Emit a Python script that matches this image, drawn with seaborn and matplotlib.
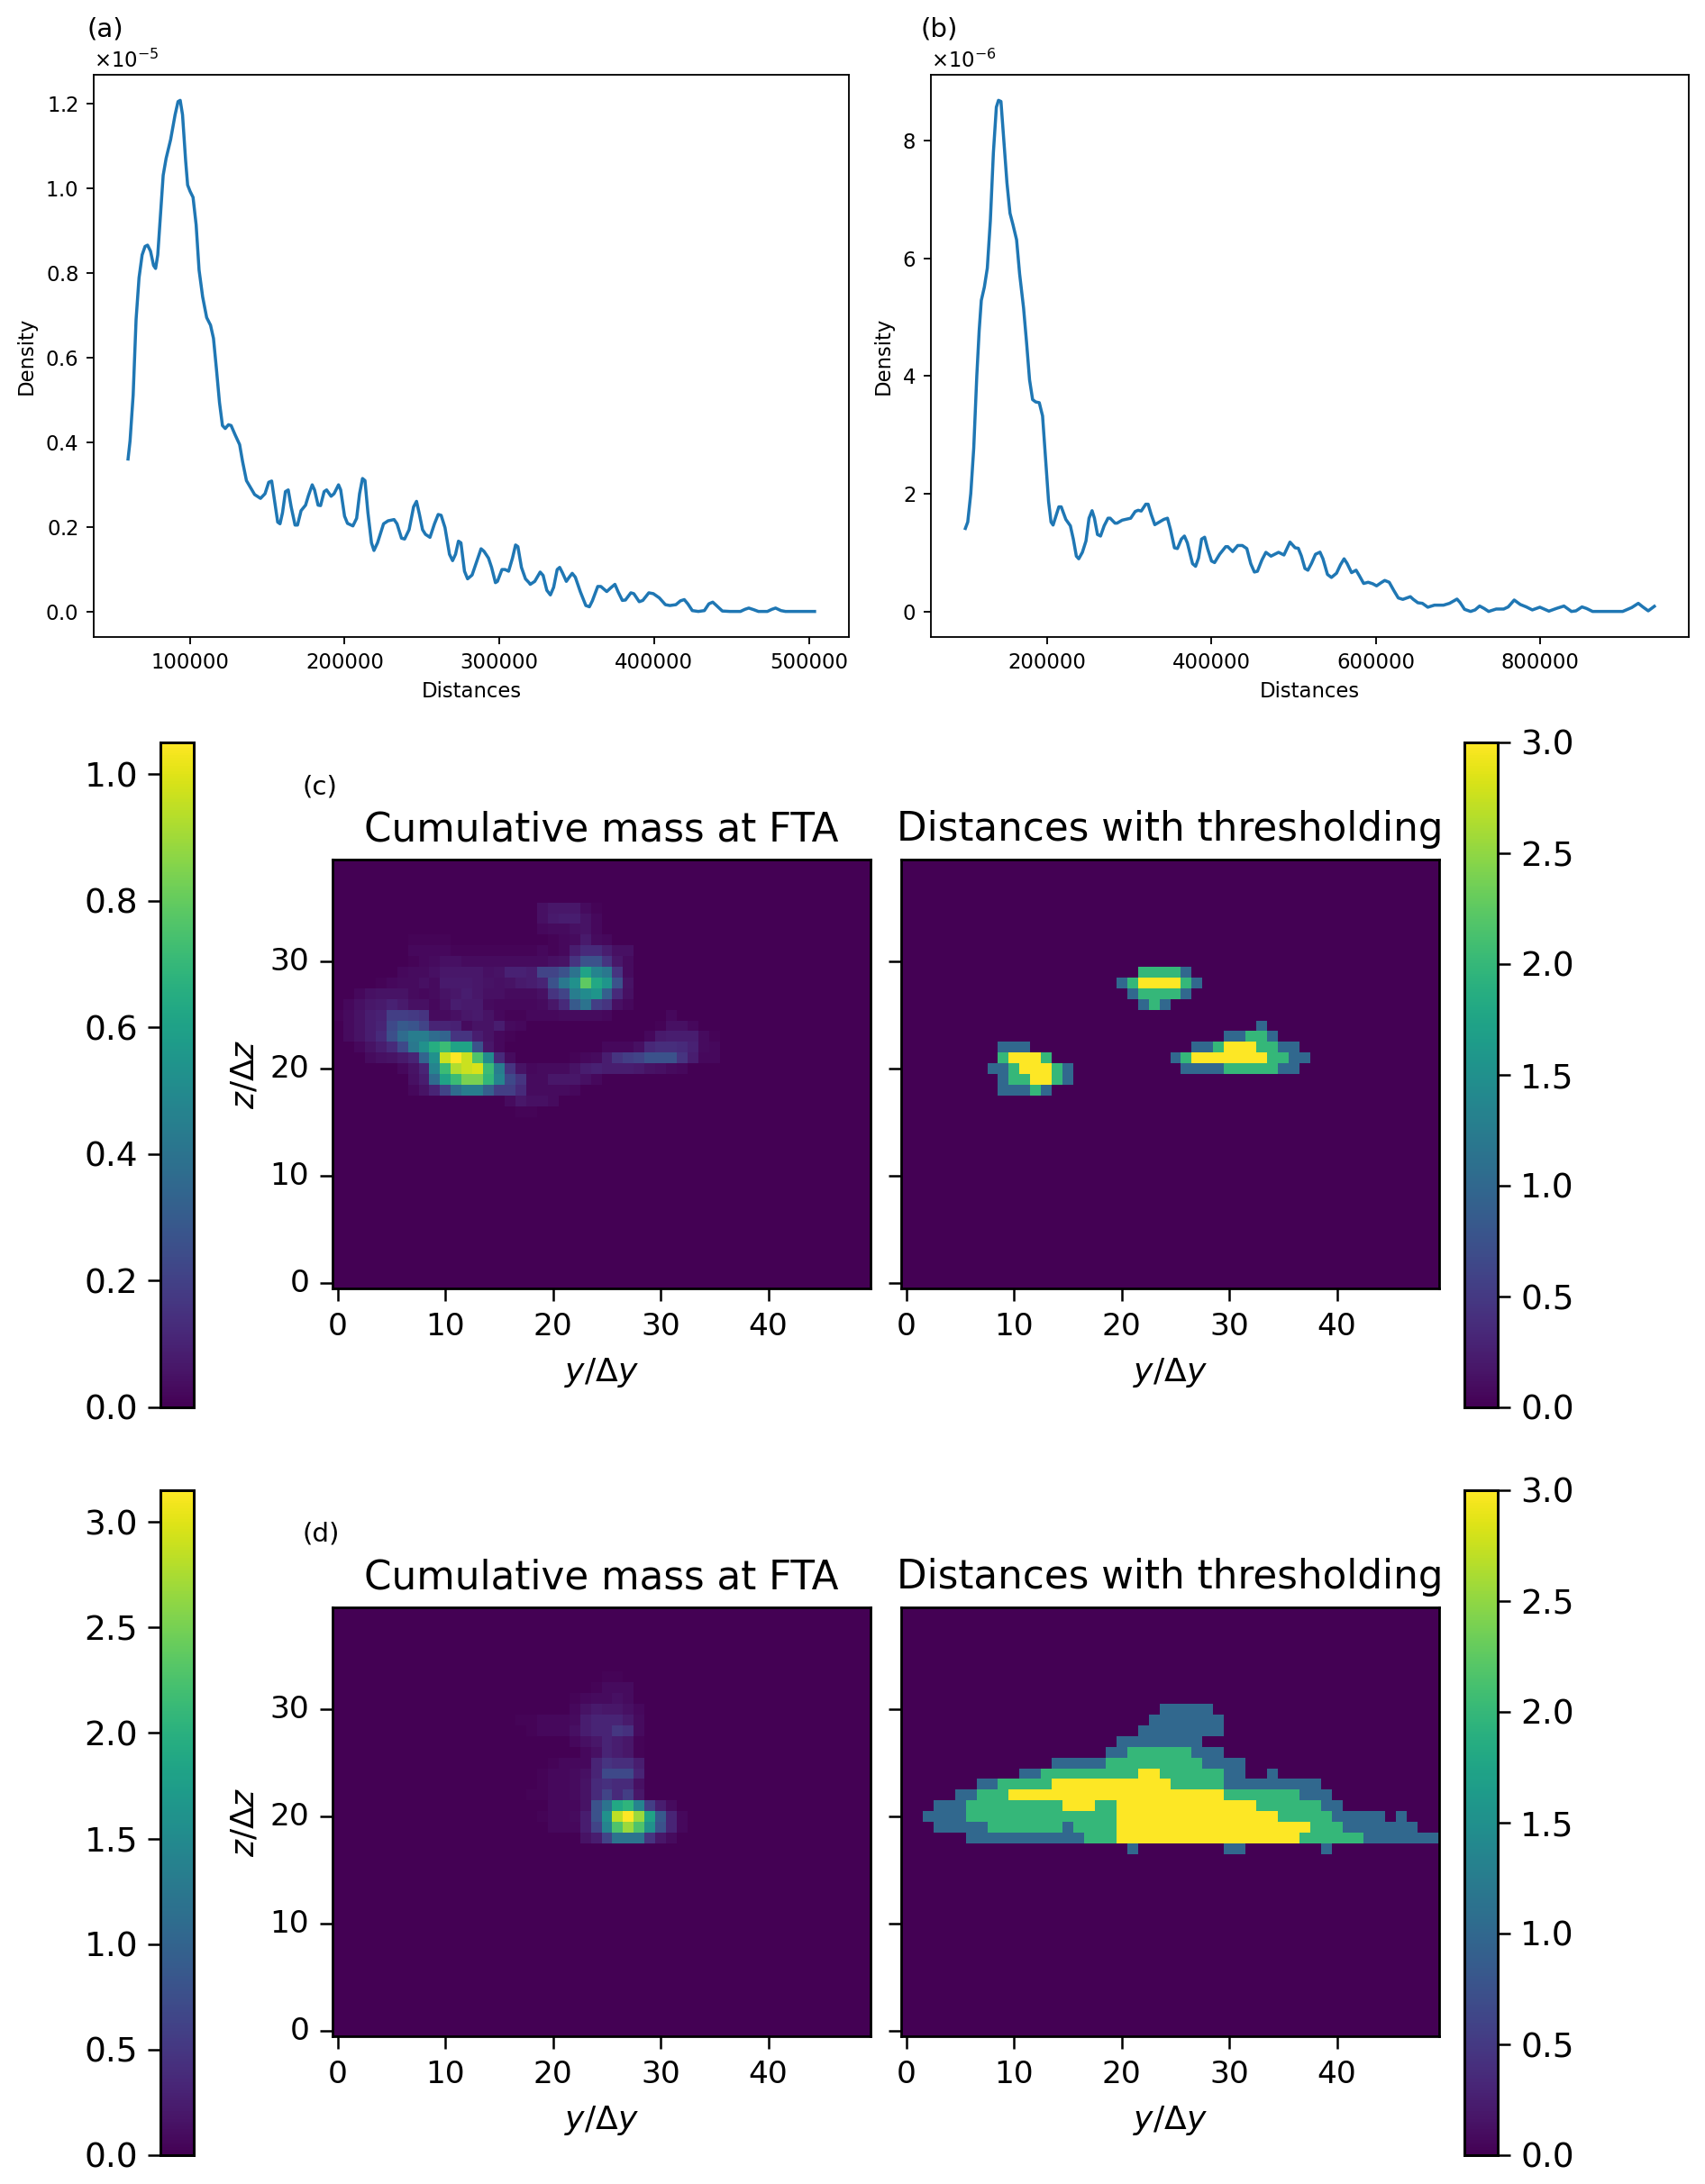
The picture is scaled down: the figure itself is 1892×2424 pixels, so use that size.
import numpy as np
import matplotlib
matplotlib.use("Agg")
import matplotlib.pyplot as plt
import seaborn as sns

# ---------- panel (a): density curve (distance in thousands, density in 1e-5)
dist_a = [60.1,61.4,63.4,65.3,67.2,69.2,71.1,72.7,74.6,76.6,77.9,79.3,80.8,82.8,84.7,87.6,90.5,92.4,93.8,95.3,97.3,98.6,100.2,102.1,104.1,106.0,108.3,110.9,113.4,115.3,117.2,119.2,121.1,122.9,125.0,126.7,129.3,132.2,134.1,136.6,139.0,141.9,145.7,148.6,151.0,152.9,154.8,156.8,158.3,159.9,161.8,163.6,165.5,168.0,169.6,171.9,174.8,176.7,179.1,180.6,182.9,184.5,186.8,188.4,191.3,193.2,196.1,197.5,200.0,201.9,205.4,207.8,209.7,211.6,213.2,215.1,217.4,219.0,221.3,225.2,228.1,232.0,233.9,236.8,238.8,241.7,244.6,246.5,248.4,250.4,252.3,255.2,258.1,260.5,262.4,264.9,267.8,269.8,271.7,273.6,275.2,277.5,279.5,282.4,285.3,288.2,290.1,293.0,295.0,297.5,298.8,301.7,303.7,306.0,308.5,310.5,312.0,314.3,316.9,319.2,
          320.0,322.9,326.4,328.3,330.7,333.0,335.1,337.4,339.0,340.7,343.3,345.2,347.1,349.1,352.4,355.9,358.2,360.1,363.6,365.6,369.4,372.4,374.7,376.8,379.5,381.5,385.0,386.9,390.4,392.7,396.6,399.5,403.4,407.3,410.2,414.1,417.0,419.5,421.8,424.7,428.6,432.5,435.4,437.9,440.3,444.1,449.0,455.8,458.7,461.2,464.5,467.4,473.2,476.1,478.5,482.0,484.9,491.7,503.7]
dens_a = [.360,.403,.511,.690,.788,.842,.862,.865,.851,.817,.810,.842,.922,1.030,1.070,1.114,1.173,1.204,1.207,1.173,1.065,1.007,.992,.978,.913,.806,.743,.694,.676,.645,.573,.493,.439,.432,.441,.439,.417,.394,.354,.309,.294,.276,.267,.278,.305,.308,.260,.211,.207,.233,.283,.287,.247,.204,.204,.238,.251,.274,.299,.287,.251,.250,.283,.287,.272,.278,.299,.287,.225,.208,.202,.220,.278,.314,.309,.233,.162,.144,.162,.207,.214,.217,.207,.173,.171,.193,.247,.260,.229,.193,.182,.175,.207,.229,.227,.198,.135,.120,.135,.166,.162,.095,.077,.086,.117,.148,.142,.126,.104,.068,.071,.099,.099,.095,.126,.157,.153,.104,.077,.068,
          .064,.071,.093,.085,.050,.039,.057,.099,.104,.092,.071,.081,.090,.081,.046,.014,.011,.025,.059,.059,.047,.057,.064,.046,.026,.027,.044,.042,.023,.026,.044,.042,.032,.016,.014,.016,.025,.028,.018,.002,0,.002,.018,.022,.014,.001,0,0,.005,.008,.004,0,0,.005,.008,.002,0,0,0]

# ---------- panel (b): density curve (distance in thousands, density in 1e-6)
dist_b = [100.6,103.5,107.2,110.8,114.5,117.4,120.0,123.7,127.3,131.0,134.7,138.3,140.9,143.9,147.5,151.2,154.9,158.5,162.9,166.6,171.4,175.0,178.7,182.4,186.1,190.5,194.5,198.2,201.8,204.8,207.3,210.6,214.3,217.2,222.8,228.3,231.9,235.6,238.5,242.9,247.3,251.0,254.7,257.6,261.3,265.0,269.4,274.1,276.7,282.6,285.1,291.4,301.7,307.2,310.8,314.5,320.0,322.9,326.6,331.0,336.5,342.0,346.4,350.1,354.9,358.5,363.3,367.0,370.6,376.9,380.6,384.2,387.9,391.6,395.2,400.0,403.7,409.9,417.2,419.8,425.7,431.9,437.4,442.9,447.7,452.1,455.8,461.3,466.1,472.3,481.5,488.1,491.7,495.4,501.7,
          505.5,509.2,513.6,517.2,521.6,526.4,531.9,535.5,541.0,545.8,552.0,556.8,561.2,564.8,570.3,575.8,579.5,585.0,590.5,596.0,600.7,605.9,610.6,616.1,621.6,627.1,632.6,641.8,645.4,650.9,656.4,663.0,671.1,682.1,689.4,698.5,702.2,707.7,715.0,720.5,726.0,731.5,737.0,746.2,755.3,760.8,768.1,775.5,782.8,790.1,799.3,810.3,819.4,828.6,837.7,843.2,850.5,856.0,863.4,900.0,911.0,919.0,924.5,931.1,938.5]
dens_b = [1.411,1.520,2.003,2.776,4.000,4.773,5.288,5.514,5.836,6.641,7.800,8.573,8.689,8.670,7.994,7.285,6.770,6.576,6.319,5.739,5.159,4.580,3.936,3.601,3.562,3.549,3.324,2.583,1.874,1.520,1.469,1.617,1.778,1.778,1.565,1.456,1.230,.940,.895,1.005,1.198,1.585,1.713,1.585,1.308,1.282,1.456,1.585,1.585,1.501,1.501,1.552,1.585,1.700,1.720,1.707,1.823,1.823,1.649,1.475,1.520,1.565,1.585,1.391,1.082,1.069,1.230,1.282,1.166,.812,.767,.908,1.230,1.262,1.069,.857,.831,.973,1.101,1.101,1.018,1.121,1.121,1.069,.812,.670,.683,.876,1.005,.940,1.005,.960,1.069,1.179,1.082,
          1.074,.946,.731,.701,.818,.972,1.008,.895,.629,.578,.650,.793,.895,.818,.660,.701,.614,.476,.496,.471,.435,.486,.527,.496,.358,.230,.205,.251,.205,.148,.138,.072,.107,.107,.138,.210,.153,.036,0,.026,.092,.051,0,.041,.041,.077,.194,.118,.077,.026,.072,.005,.051,.092,0,.010,.077,.051,0,0,.066,.138,.077,.010,.087]

# ---------- panel (c) left: cumulative mass, percent of colour maximum, row -> (first column, values)
mass_c_rows = {
 35:(19,[4,6,6,6,3,1]),
 34:(19,[4,7,8,8,5,2]),
 33:(19,[2,3,3,4,5,2]),
 32:(7,[1,1,1,1,0,0,0,0,0,0,0,0,0,1,2,3,7,3,2]),
 31:(7,[2,2,2,2,1,1,1,1,1,1,1,1,2,1,2,8,12,12,8,4,4]),
 30:(7,[1,2,3,4,4,3,3,3,3,3,3,3,3,4,5,15,25,25,15,6,3]),
 29:(6,[2,3,3,4,6,6,6,6,4,5,9,9,8,20,20,25,38,58,45,40,15,3]),
 28:(4,[1,2,3,3,4,3,7,7,7,6,5,4,5,7,8,10,25,40,50,75,60,52,25,5]),
 27:(2,[2,4,5,5,5,3,2,3,5,6,8,6,4,4,3,3,3,4,15,20,42,48,52,30,12,4]),
 26:(1,[2,4,6,7,9,7,4,4,2,4,8,7,7,3,2,2,2,2,3,6,12,28,38,18,15,4,2]),
 25:(0,[1,3,5,8,9,18,18,17,15,3,3,4,6,7,5,2,1,1,2,2,2,3,3,3,3,2,0,0,0,0,0,2]),
 24:(1,[3,5,8,10,22,28,26,20,10,10,9,3,5,5,8,3,2,0,0,0,0,0,0,0,0,0,0,0,0,1,4,4,2]),
 23:(1,[3,5,8,12,24,35,42,42,35,32,15,15,8,5,2,1,0,0,0,0,0,0,0,0,0,0,0,0,2,7,8,8,8,3,1]),
 22:(2,[2,5,8,12,22,40,50,62,68,58,58,25,6,2,0,0,0,0,0,0,0,0,0,2,2,2,4,11,13,13,12,9,3,2]),
 21:(3,[3,4,5,7,10,32,50,92,100,92,72,48,12,3,0,0,0,0,0,1,2,3,8,15,18,20,25,25,25,15,8,2,2]),
 20:(6,[2,5,10,45,68,88,92,94,68,42,15,5,2,3,3,3,5,8,9,8,8,8,7,5,4,3,2]),
 19:(7,[4,8,35,58,68,80,80,66,45,22,15,3,3,6,6,6,4,2]),
 18:(7,[2,5,10,20,35,42,42,30,18,18,12,3,3,3,3,2]),
 17:(16,[3,6,4,4,3]),
 16:(17,[1,1]),
}

# ---------- panel (d) left: cumulative mass, percent of colour maximum
mass_d_rows = {
 33:(25,[1,1]),
 32:(24,[1,3,3,3]),
 31:(22,[1,2,3,3,4,3]),
 30:(22,[2,5,7,6,6,4,2]),
 29:(17,[1,1,2,2,2,3,8,10,10,10,7,3]),
 28:(18,[1,2,2,2,4,8,10,10,16,14,3]),
 27:(22,[2,4,6,10,8,6,1]),
 26:(23,[2,4,10,8,6,1]),
 25:(20,[1,2,2,2,10,15,13,13,8]),
 24:(19,[1,2,2,3,4,10,22,22,22,10]),
 23:(19,[1,2,2,3,5,12,14,12,12,4]),
 22:(18,[1,1,2,2,3,5,12,20,12,18,6]),
 21:(20,[2,2,2,5,25,38,60,65,45,18,8,3]),
 20:(19,[1,2,2,3,8,25,50,90,100,85,58,28,10,2]),
 19:(20,[2,2,2,8,20,45,72,85,72,50,25,10,2]),
 18:(23,[5,8,20,38,38,38,15,6,3]),
}

# ---------- thresholded distance maps: row -> runs of (first column, last column, level)
thr_c_rows = {
 29:[(22,25,2),(26,26,1)],
 28:[(20,20,1),(21,21,2),(22,25,3),(26,26,2),(27,27,1)],
 27:[(21,21,1),(22,25,2),(26,26,1)],
 26:[(22,22,1),(23,23,2),(24,24,1)],
 24:[(33,33,1)],
 23:[(30,31,1),(32,33,2),(34,34,1)],
 22:[(9,11,1),(27,28,1),(29,29,2),(30,32,3),(33,34,2),(35,36,1)],
 21:[(9,9,2),(10,12,3),(13,13,2),(25,25,1),(26,26,2),(27,33,3),(34,35,2),(36,37,1)],
 20:[(8,9,1),(10,10,2),(11,13,3),(14,14,2),(15,15,1),(26,29,1),(30,34,2),(35,36,1)],
 19:[(9,9,1),(10,11,2),(12,13,3),(14,14,2),(15,15,1)],
 18:[(9,11,1),(12,12,2),(13,13,1)],
}
thr_d_rows = {
 30:[(24,28,1)],
 29:[(23,29,1)],
 28:[(22,29,1)],
 27:[(20,27,1)],
 26:[(19,20,1),(21,26,2),(27,29,1)],
 25:[(14,18,1),(19,27,2),(28,31,1)],
 24:[(11,12,1),(13,21,2),(22,23,3),(24,29,2),(30,31,1),(34,34,1)],
 23:[(7,8,1),(9,13,2),(14,24,3),(25,29,2),(30,38,1)],
 22:[(5,6,1),(7,9,2),(10,29,3),(30,36,2),(37,39,1)],
 21:[(3,5,1),(6,14,2),(15,17,3),(18,19,2),(20,32,3),(33,38,2),(39,40,1)],
 20:[(2,5,1),(6,19,2),(20,34,3),(35,39,2),(40,44,1),(46,46,1)],
 19:[(3,7,1),(8,14,2),(15,15,1),(16,19,2),(20,37,3),(38,40,2),(41,47,1)],
 18:[(6,16,1),(17,19,2),(20,36,3),(37,42,2),(43,49,1)],
 17:[(21,21,1),(30,31,1),(39,39,1)],
}

vmax_mass_c = 1.05
vmax_mass_d = 3.15
vmax_thr = 3.0
mass_ticks_c = [0.0,0.2,0.4,0.6,0.8,1.0]
mass_ticks_d = [0.0,0.5,1.0,1.5,2.0,2.5,3.0]
thr_ticks = [0.0,0.5,1.0,1.5,2.0,2.5,3.0]
x_grid_ticks = [0,10,20,30,40]
y_grid_ticks = [0,10,20,30]
NY, NZ = 50, 40


def grid_from_sparse(rows, vmax):
    g = np.zeros((NZ, NY))
    for r, (c0, vals) in rows.items():
        g[r, c0:c0 + len(vals)] = np.array(vals) / 100.0 * vmax
    return g


def grid_from_runs(rows):
    g = np.zeros((NZ, NY))
    for r, runs in rows.items():
        for a, b, v in runs:
            g[r, a:b + 1] = v
    return g


W, H = 1892, 2424
DPI = 200
fig = plt.figure(figsize=(W / DPI, H / DPI), dpi=DPI)


def box(x0, y0, x1, y1):
    return [x0 / W, 1 - y1 / H, (x1 - x0) / W, (y1 - y0) / H]


def density(ax, xs, ys, scale):
    sns.lineplot(x=np.array(xs) * 1000, y=np.array(ys) * scale, ax=ax, color="#1f77b4",
                 lw=1.25, errorbar=None, sort=False, estimator=None)
    ax.set_xlabel("Distances", fontsize=8.2, labelpad=3.3)
    ax.set_ylabel("Density", fontsize=8.2, labelpad=3.3)
    ax.tick_params(labelsize=8.2, width=0.66, length=2.9, pad=3.2)
    ax.ticklabel_format(axis="y", style="sci", scilimits=(0, 0), useMathText=True)
    ax.yaxis.get_offset_text().set_fontsize(8.2)
    for s in ax.spines.values():
        s.set_linewidth(0.66)


ax_a = fig.add_axes(box(104, 83, 942, 707))
density(ax_a, dist_a, dens_a, 1e-5)
ax_b = fig.add_axes(box(1033, 83, 1874, 707))
density(ax_b, dist_b, dens_b, 1e-6)
ax_b.set_xticks([200000, 400000, 600000, 800000])


def heat(ax, data, vmax, cax, title, ylabels, cticks, cside):
    sns.heatmap(data, ax=ax, cmap="viridis", vmin=0, vmax=vmax, cbar_ax=cax, square=False,
                cbar_kws={"ticks": cticks}, rasterized=True)
    ax.invert_yaxis()
    ax.set_xticks(np.array(x_grid_ticks) + 0.5, labels=[str(v) for v in x_grid_ticks], rotation=0)
    ax.set_yticks(np.array(y_grid_ticks) + 0.5,
                  labels=[str(v) for v in y_grid_ticks] if ylabels else [], rotation=0)
    ax.tick_params(labelsize=12.4, width=0.9, length=5, pad=4.3)
    ax.set_title(title, fontsize=15.7, pad=7.5)
    ax.set_xlabel(r"$y/\Delta y$", fontsize=13, labelpad=6)
    if ylabels:
        ax.set_ylabel(r"$z/\Delta z$", fontsize=13, labelpad=4)
    else:
        ax.set_ylabel("")
    for s in ax.spines.values():
        s.set_visible(True)
        s.set_linewidth(1.0)
    cax.tick_params(labelsize=13.5, width=0.9, length=5, pad=4)
    cax.yaxis.set_ticks_position(cside)
    cax.yaxis.set_label_position(cside)
    for s in cax.spines.values():
        s.set_visible(True)
        s.set_linewidth(1.0)


rows_px = [(954, 1430, 824, 1562, mass_c_rows, thr_c_rows, vmax_mass_c, mass_ticks_c),
           (1784, 2260, 1654, 2392, mass_d_rows, thr_d_rows, vmax_mass_d, mass_ticks_d)]
for top, bot, ctop, cbot, mr, tr, vm, mt in rows_px:
    axl = fig.add_axes(box(369, top, 966, bot))
    axr = fig.add_axes(box(1000, top, 1597, bot))
    cl = fig.add_axes(box(178, ctop, 215, cbot))
    cr = fig.add_axes(box(1625, ctop, 1662, cbot))
    heat(axl, grid_from_sparse(mr, vm), vm, cl, "Cumulative mass at FTA", True, mt, "left")
    heat(axr, grid_from_runs(tr), vmax_thr, cr, "Distances with thresholding", False, thr_ticks, "right")

for label, px, py in [("(a)", 96, 33), ("(b)", 1022, 33), ("(c)", 335, 874), ("(d)", 335, 1703)]:
    fig.text(px / W, 1 - py / H, label, fontsize=10.6, ha="left", va="center")

fig.savefig("out.png", dpi=DPI)
